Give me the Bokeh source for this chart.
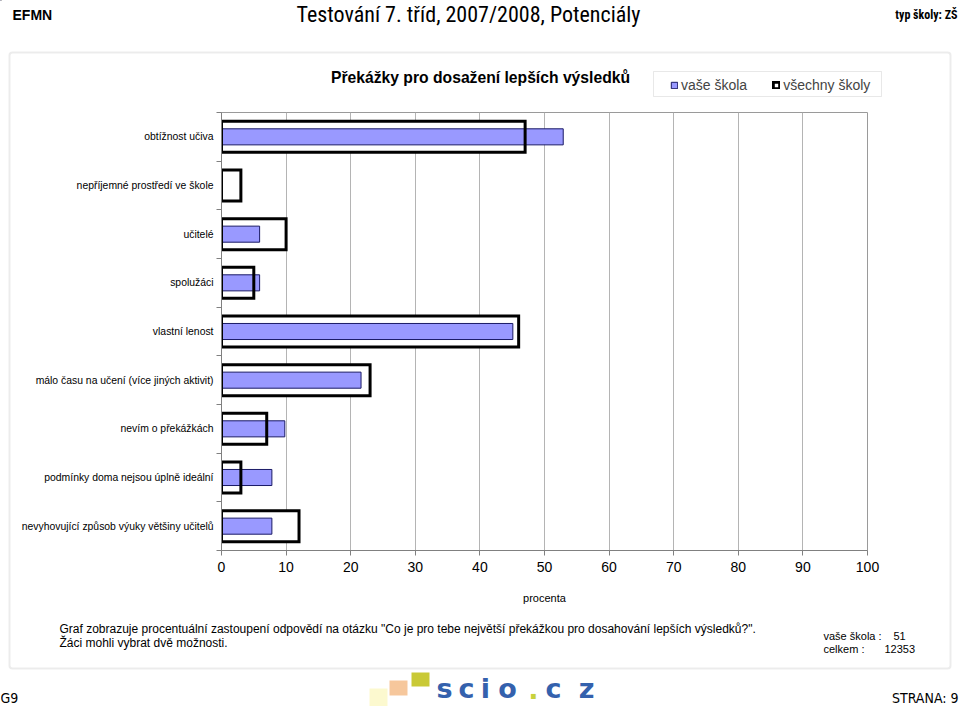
from bokeh.plotting import figure
from bokeh.models import (Range1d, FixedTicker, Label, BoxAnnotation, Legend,
                          LegendItem, ColumnDataSource, Plot, HBar)
from bokeh.embed import file_html
from bokeh.resources import INLINE

# ---------------- data ----------------
categories = [
    "obtížnost učiva",
    "nepříjemné prostředí ve škole",
    "učitelé",
    "spolužáci",
    "vlastní lenost",
    "málo času na učení (více jiných aktivit)",
    "nevím o překážkách",
    "podmínky doma nejsou úplně ideální",
    "nevyhovující způsob výuky většiny učitelů",
]
vase_skola = [52.9, 0.0, 5.9, 5.9, 45.1, 21.6, 9.8, 7.8, 7.8]
vsechny_skoly = [47.0, 3.0, 10.0, 5.0, 46.0, 23.0, 7.0, 3.0, 12.0]
x_ticks = [0, 10, 20, 30, 40, 50, 60, 70, 80, 90, 100]
series_names = ["vaše škola", "všechny školy"]
n_vase = 51
n_celkem = 12353

W, H = 959, 706
SCHOOL_FILL, SCHOOL_LINE = "#9999FF", "#1a1a66"

# ---------------- chart figure ----------------
n = len(categories)
centers = [n - i - 0.5 for i in range(n)]
bounds = list(range(n + 1))

src = ColumnDataSource(dict(y=centers, cat=categories, school=vase_skola, allsch=vsechny_skoly))

p = figure(width=W, height=H, x_range=Range1d(0, 100), y_range=Range1d(0, n),
           output_backend="svg", toolbar_location=None, title=None,
           min_border_left=221, min_border_right=92, min_border_top=112, min_border_bottom=156)
p.background_fill_color = "white"
p.border_fill_color = "white"
p.outline_line_color = "#9a9a9a"
p.outline_line_width = 1

p.hbar(y="y", left=0, right="allsch", height=0.637, source=src,
       fill_color="white", line_color=None)
p.hbar(y="y", left=0, right="school", height=0.33, source=src,
       fill_color=SCHOOL_FILL, line_color=SCHOOL_LINE, line_width=1)
p.hbar(y="y", left=0, right="allsch", height=0.637, source=src,
       fill_color=None, line_color="black", line_width=3, line_join="miter")

p.xaxis.ticker = FixedTicker(ticks=x_ticks)
p.xaxis.axis_line_color = "#808080"
p.xaxis.major_tick_line_color = "#808080"
p.xaxis.major_tick_out = 5
p.xaxis.major_tick_in = 0
p.xaxis.minor_tick_line_color = None
p.xaxis.major_label_text_font = "Liberation Sans"
p.xaxis.major_label_text_font_size = "14px"
p.xaxis.major_label_text_color = "black"
p.xaxis.major_label_standoff = 6
p.xaxis.axis_label = "procenta"
p.xaxis.axis_label_text_font = "Liberation Sans"
p.xaxis.axis_label_text_font_size = "11px"
p.xaxis.axis_label_text_font_style = "normal"
p.xaxis.axis_label_text_color = "black"
p.xaxis.axis_label_standoff = 17

p.yaxis.ticker = FixedTicker(ticks=centers, minor_ticks=bounds)
p.yaxis.major_label_overrides = {c: lab_ for c, lab_ in zip(centers, categories)}
p.yaxis.axis_line_color = "#808080"
p.yaxis.major_tick_line_color = None
p.yaxis.major_tick_out = 0
p.yaxis.major_tick_in = 0
p.yaxis.minor_tick_line_color = "#808080"
p.yaxis.minor_tick_out = 5
p.yaxis.minor_tick_in = 0
p.yaxis.major_label_text_font = "Liberation Sans"
p.yaxis.major_label_text_font_size = "10.4px"
p.yaxis.major_label_text_color = "black"
p.yaxis.major_label_standoff = 3

p.xgrid.ticker = FixedTicker(ticks=x_ticks)
p.xgrid.grid_line_color = "#b4b4b4"
p.xgrid.grid_line_width = 1
p.ygrid.grid_line_color = None

# ---------------- page decorations (transparent overlay, whole canvas = frame) ----------------
bg = Plot(width=W, height=H, x_range=Range1d(0, W), y_range=Range1d(H, 0),
          min_border=0, toolbar_location=None, output_backend="svg", title=None,
          outline_line_color=None, background_fill_color=None, border_fill_color=None)
bg.styles = {"position": "absolute", "left": "0px", "top": "0px", "pointer-events": "none"}

# legend: swatch proxies share the chart's bar styles (zero-size, outside the canvas)
leg_src = ColumnDataSource(dict(y=[-20], r=[0]))
g_school = bg.add_glyph(leg_src, HBar(y="y", left=0, right="r", height=0,
                                      fill_color=SCHOOL_FILL, line_color=SCHOOL_LINE, line_width=1))
g_all = bg.add_glyph(leg_src, HBar(y="y", left=0, right="r", height=0, fill_color="white",
                                   line_color="black", line_width=3, line_join="miter"))
legend = Legend(items=[LegendItem(label=series_names[0], renderers=[g_school]),
                       LegendItem(label=series_names[1], renderers=[g_all])],
                orientation="horizontal", location=(670, 613), padding=0, margin=0,
                spacing=25, label_standoff=3, glyph_width=8, glyph_height=8,
                label_text_font="Liberation Sans", label_text_font_size="14px",
                border_line_color=None, background_fill_alpha=0)
bg.add_layout(legend)


def box(left, right, top, bottom, color, width=1, radius=0):
    bg.add_layout(BoxAnnotation(left=left, right=right, top=top, bottom=bottom,
                                left_units="canvas", right_units="canvas",
                                top_units="canvas", bottom_units="canvas",
                                fill_color=None, fill_alpha=0, line_color=color,
                                line_width=width, border_radius=radius))


def filled(left, right, top, bottom, color):
    bg.add_layout(BoxAnnotation(left=left, right=right, top=top, bottom=bottom,
                                left_units="canvas", right_units="canvas",
                                top_units="canvas", bottom_units="canvas",
                                fill_color=color, fill_alpha=1, line_color=None))


def lab(text, x, y, size, align="left", bold=False, font="Liberation Sans",
        color="black", baseline="middle"):
    bg.add_layout(Label(x=x, y=y, x_units="canvas", y_units="canvas", text=text,
                        text_font=font, text_font_size=f"{size}px",
                        text_font_style="bold" if bold else "normal",
                        text_align=align, text_baseline=baseline, text_color=color))


box(9, 950, 52, 668, "#c0c0c0", width=2, radius=3)
box(653, 881, 71, 96, "#b4b4b4", width=1)

lab("EFMN", 12, 14, 14, bold=True)
lab("Testování 7. tříd, 2007/2008, Potenciály", 468, 14, 22, align="center",
    font="Roboto Condensed")
lab("typ školy: ZŠ", 957, 14, 12, align="right", bold=True, font="Roboto Condensed")

lab("Překážky pro dosažení lepších výsledků", 480, 77, 15.7, align="center", bold=True)

lab('Graf zobrazuje procentuální zastoupení odpovědí na otázku "Co je pro tebe největší '
    'překážkou pro dosahování lepších výsledků?".', 59, 628, 12)
lab("Žáci mohli vybrat dvě možnosti.", 59, 642, 12)
lab("vaše škola :", 823, 635, 11)
lab(str(n_vase), 893, 635, 11)
lab("celkem :", 823, 648, 11)
lab(str(n_celkem), 884, 648, 11)

lab("G9", 0, 697, 14, font="DejaVu Sans Condensed")
lab("STRANA: 9", 958, 697, 14, align="right", font="DejaVu Sans Condensed")

filled(369, 387, 688, 706, "#fcf9cf")
filled(389, 407, 680, 695, "#f6c79c")
filled(411, 429, 672, 686, "#c9c936")
logo_chars = [("s", 444), ("c", 466), ("i", 485), ("o", 507), (".", 533), ("c", 553), ("z", 586)]
for ch, lx in logo_chars:
    lab(ch, lx, 688, 27, align="center", bold=True, font="DejaVu Sans",
        color="#c8d23c" if ch == "." else "#3461ad")

open("out.html", "w").write(file_html([p, bg], INLINE))
